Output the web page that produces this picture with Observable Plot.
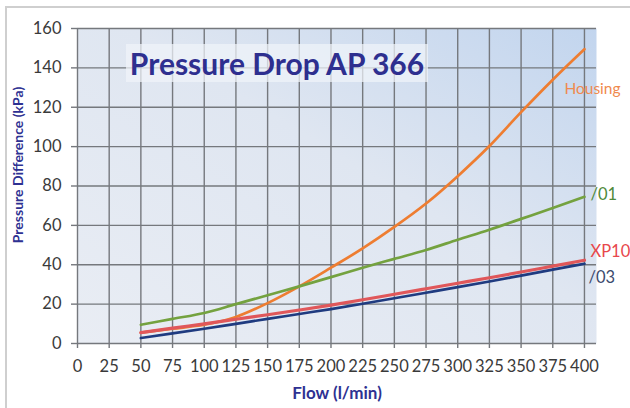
<!DOCTYPE html>
<html>
<head>
<meta charset="utf-8">
<script src="https://cdn.jsdelivr.net/npm/d3@7"></script>
<script src="https://cdn.jsdelivr.net/npm/@observablehq/plot@0.6"></script>
<style>
  html, body { margin: 0; padding: 0; background: #ffffff; }
  #wrap { position: relative; width: 630px; height: 408px; overflow: hidden; }
  #border { position: absolute; left: 5px; top: 6px; width: 640px; height: 420px;
    border-top: 2px solid #cfcfcf; border-left: 2px solid #cfcfcf; box-sizing: border-box; }
  #title { position: absolute; left: 126px; top: 44px; width: 302px; height: 38px;
    background: rgba(240,244,250,0.72); font-family: Lato, sans-serif; font-weight: 700;
    font-size: 30px; color: #2e2f8f; line-height: 38px; text-align: center; white-space: nowrap; }
  #chart { position: absolute; left: 0; top: 0; }
</style>
</head>
<body>
<div id="wrap">
  <div id="border"></div>
  <div id="chart"></div>
  <div id="title">Pressure Drop AP 366</div>
</div>
<script>
const flow    = [50, 75, 100, 125, 150, 175, 200, 225, 250, 275, 300, 325, 350, 375, 400];
const housing = [5.5, 7.5, 9.5, 13.5, 20.5, 29, 38.5, 48.3, 59.2, 71.1, 85, 100.3, 117.5, 134, 149.5];
const s01     = [9.5, 12.5, 15.5, 20, 24.5, 29, 33.7, 38.5, 43, 47.5, 52.7, 57.8, 63.3, 68.8, 74.5];
const xp10    = [5.5, 7.8, 10, 12.3, 14.6, 17, 19.5, 22.2, 25, 27.8, 30.6, 33.4, 36.3, 39.3, 42.3];
const s03     = [2.8, 5.1, 7.5, 10, 12.5, 15, 17.5, 20.2, 23, 25.8, 28.6, 31.5, 34.5, 37.5, 40.5];
const seriesNames = ["Housing", "/01", "XP10", "/03"];
const seriesValues = [housing, s01, xp10, s03];
const xTicks = [0, 25, 50, 75, 100, 125, 150, 175, 200, 225, 250, 275, 300, 325, 350, 375, 400];
const yTicks = [0, 20, 40, 60, 80, 100, 120, 140, 160];
const xTitle = "Flow (l/min)";
const yTitle = "Pressure Difference (kPa)";

const colors = {"Housing": "#ee7d31", "/01": "#74a23f", "XP10": "#e0575a", "/03": "#1f3b80"};
const labelColors = {"Housing": "#f08a4e", "/01": "#4f8a3a", "XP10": "#e8474c", "/03": "#3c4a6e"};
const labelOffsets = {"Housing": [8, 40, "middle"], "/01": [6, -2, "start"], "XP10": [6, -9, "start"], "/03": [4, 14, "start"]};

const rows = [];
seriesNames.forEach((name, i) => flow.forEach((f, j) => rows.push({series: name, flow: f, kpa: seriesValues[i][j]})));
const lastRows = seriesNames.map((name, i) => ({series: name, flow: flow[flow.length - 1], kpa: seriesValues[i][flow.length - 1]}));

const labelMarks = lastRows.map(d => Plot.text([d], {
  x: "flow", y: "kpa", text: "series",
  dx: labelOffsets[d.series][0], dy: labelOffsets[d.series][1], textAnchor: labelOffsets[d.series][2],
  fill: labelColors[d.series], fontSize: d.series === "Housing" ? 15.5 : 16.5
}));

const lineMarks = seriesNames.map(name => Plot.line(rows.filter(r => r.series === name), {
  x: "flow", y: "kpa", stroke: colors[name], strokeWidth: name === "XP10" ? 3.2 : 2.7, curve: "monotone-x"
}));

const svg = Plot.plot({
  width: 630,
  height: 408,
  marginLeft: 77,
  marginRight: 34,
  marginTop: 28,
  marginBottom: 65,
  style: {fontFamily: "Lato, sans-serif", fontSize: "16px", color: "#3a3a3a", background: "transparent", overflow: "visible"},
  x: {domain: [0, 409.5]},
  y: {domain: [0, 160]},
  marks: [
    Plot.frame({fill: "url(#bggrad)", stroke: null}),
    Plot.gridX(xTicks, {stroke: "#75787d", strokeOpacity: 1, strokeWidth: 1.4}),
    Plot.gridY(yTicks, {stroke: "#75787d", strokeOpacity: 1, strokeWidth: 1.4}),
    Plot.axisX(xTicks, {tickSize: 5, tickPadding: 12, stroke: "#75787d", strokeWidth: 1.4, label: null, fontSize: 16.5}),
    Plot.axisY(yTicks, {tickSize: 6, tickPadding: 10, stroke: "#75787d", strokeWidth: 1.4, label: null, fontSize: 16.5}),
    ...lineMarks,
    ...labelMarks,
    Plot.text([xTitle], {frameAnchor: "bottom", dy: 55, fontWeight: "bold", fill: "#2e3192", fontSize: 17}),
    Plot.text([yTitle], {frameAnchor: "left", textAnchor: "middle", dx: -59, dy: -21, rotate: -90, fontWeight: "bold", fill: "#2e3192", fontSize: 14})
  ]
});

const defs = d3.select(svg).insert("defs", ":first-child");
const g = defs.append("linearGradient").attr("id", "bggrad")
  .attr("x1", "0%").attr("y1", "100%").attr("x2", "100%").attr("y2", "0%");
g.append("stop").attr("offset", "0%").attr("stop-color", "#e9edf4");
g.append("stop").attr("offset", "55%").attr("stop-color", "#dfe6f1");
g.append("stop").attr("offset", "100%").attr("stop-color", "#c2d5ee");

document.getElementById("chart").appendChild(svg);
</script>
</body>
</html>
